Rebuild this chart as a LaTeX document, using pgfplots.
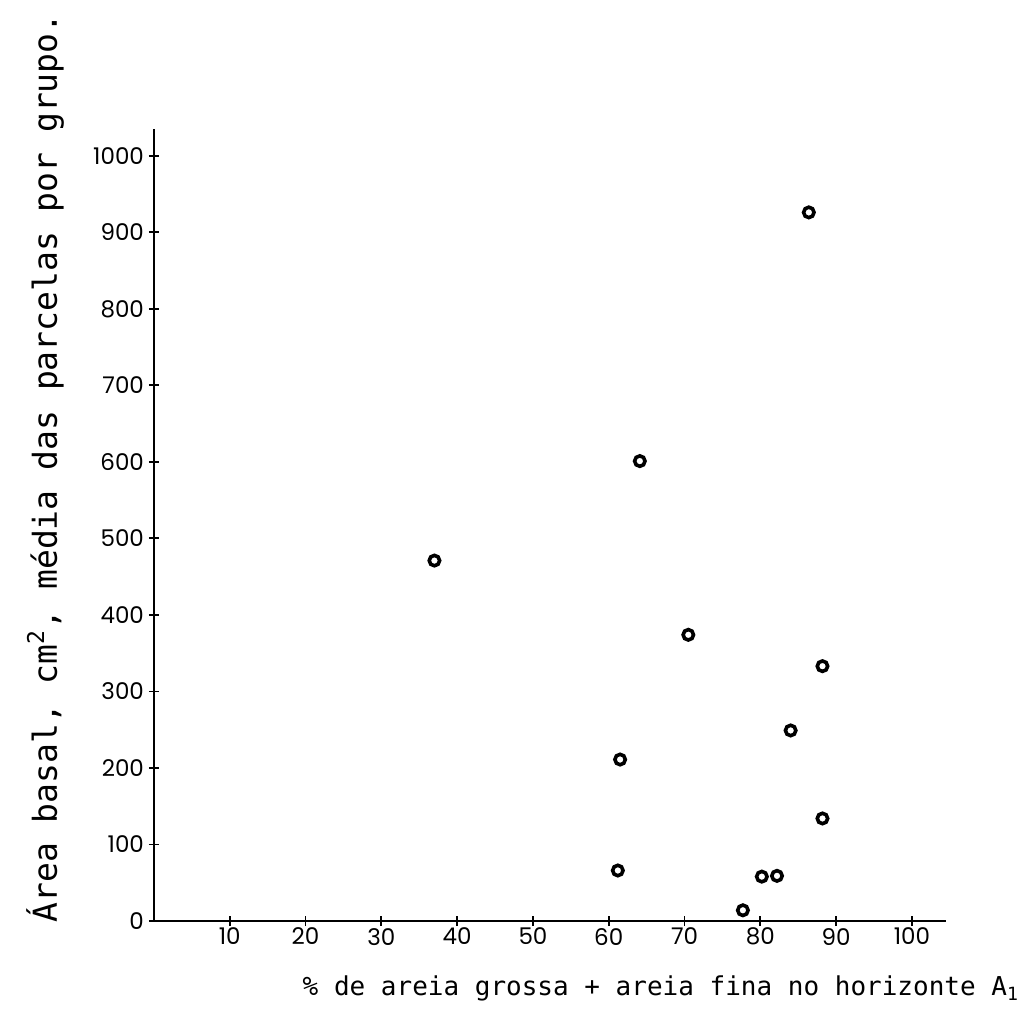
\documentclass[border=0pt]{standalone}
\usepackage{pgfplots}
\pgfplotsset{compat=1.18}
\usepackage{fontspec}
\newfontfamily\tickfont{Poppins}
\newfontfamily\typew{DejaVu Sans Mono}
\begin{document}
\begin{tikzpicture}
\useasboundingbox (-77pt,-52.5pt) rectangle (436pt,460.5pt);
\begin{axis}[
  at={(0pt,0pt)}, anchor=south west,
  scale only axis, width=396pt, height=396pt,
  xmin=0, xmax=104.5, ymin=0, ymax=1035,
  axis lines=left, axis line style={-, line width=1pt},
  tick align=center, major tick length=5pt,
  tick style={line width=0.9pt, black},
  xtick={10,20,...,100}, ytick={0,100,...,1000},
  /pgf/number format/1000 sep={},
  /pgf/number format/assume math mode=true,
  ticklabel style={font=\tickfont\fontsize{11.5}{11.5}\selectfont},
  xticklabel style={yshift=2.5pt},
  yticklabel style={xshift=1pt},
  xlabel={\% de areia grossa + areia fina no horizonte A\textsubscript{1}},
  xlabel style={font=\typew\fontsize{13}{13}\selectfont, at={(axis description cs:0.64,-0.0846)}, anchor=center},
  ylabel={Área basal, cm\textsuperscript{2}, média das parcelas por grupo.},
  ylabel style={font=\typew\fontsize{16.5}{16.5}\selectfont, at={(axis description cs:-0.1376,0.572)}, anchor=center},
]
\addplot[only marks, mark=o, mark size=2.6pt, mark options={line width=1.8pt, black}] coordinates {
(37,471) (64.1,601) (70.5,374) (88.2,333) (61.5,211) (84.0,249)
(88.2,134) (61.2,66) (80.2,58) (82.2,59) (77.7,14) (86.4,926)
};
\end{axis}
\end{tikzpicture}
\end{document}
